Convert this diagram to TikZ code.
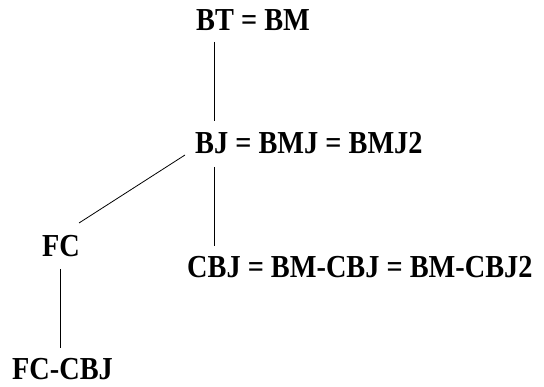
\documentclass[tikz,border=0pt]{standalone}
\usepackage{fontspec}
\setmainfont{Liberation Serif}
\usetikzlibrary{calc}
\tikzset{
  term/.style={anchor=base west, inner sep=0pt, xscale=0.885,
    font=\fontsize{32}{34}\selectfont\bfseries},
  link/.style={draw=black, line width=0.8pt}
}
\begin{document}
\begin{tikzpicture}[x=1pt,y=1pt]
  \useasboundingbox (0,0) rectangle (544,386);
  % lattice of terms
  \node[term] (bt)    at (196,355) {BT = BM};
  \node[term] (bj)    at (195,232) {BJ = BMJ = BMJ2};
  \node[term] (fc)    at (42,129)  {FC};
  \node[term] (cbj)   at (187,108) {CBJ = BM-CBJ = BM-CBJ2};
  \node[term] (fccbj) at (12,7)    {FC-CBJ};
  % connecting edges
  \draw[link] ($(bt.base west)+(18,-11)$) -- ($(bj.base west)+(19,33)$);
  \draw[link] ($(bj.base west)+(-10,-1)$) -- ($(fc.base west)+(37,34)$);
  \draw[link] ($(bj.base west)+(19,-13)$) -- ($(cbj.base west)+(27,32)$);
  \draw[link] ($(fc.base west)+(18,-12)$) -- ($(fccbj.base west)+(48,31)$);
\end{tikzpicture}
\end{document}
